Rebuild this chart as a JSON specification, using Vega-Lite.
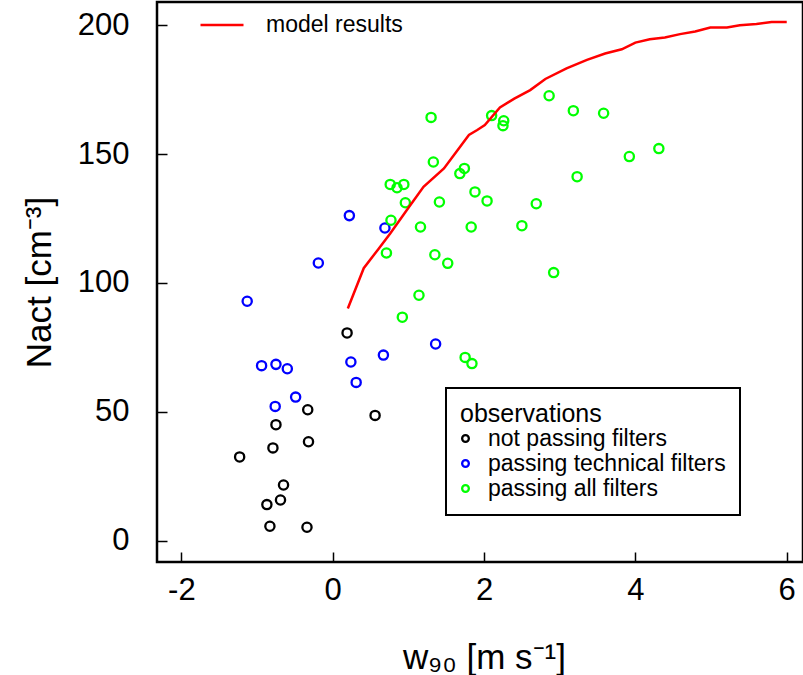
{
  "$schema": "https://vega.github.io/schema/vega-lite/v6.json",
  "width": 646,
  "height": 560,
  "autosize": {"type": "none"},
  "padding": {"left": 157, "top": 2, "right": 0, "bottom": 113},
  "background": "white",
  "config": {
    "view": {"stroke": "black", "strokeWidth": 2.5},
    "font": "Liberation Sans",
    "legend": {"strokeWidth": 2},
    "axis": {
      "domain": false,
      "grid": false,
      "ticks": true,
      "tickColor": "black",
      "tickWidth": 1.5,
      "tickSize": -10,
      "labelFont": "Liberation Sans",
      "labelFontSize": 31,
      "labelColor": "black",
      "titleFont": "Liberation Sans",
      "titleFontSize": 35,
      "titleFontWeight": "normal",
      "titleColor": "black"
    }
  },
  "datasets": {
    "model": [
      {"w90": 0.2, "nact": 90.1, "series": "model results"},
      {"w90": 0.41, "nact": 105.7, "series": "model results"},
      {"w90": 0.6, "nact": 113.0, "series": "model results"},
      {"w90": 0.76, "nact": 119.2, "series": "model results"},
      {"w90": 0.98, "nact": 128.3, "series": "model results"},
      {"w90": 1.2, "nact": 137.3, "series": "model results"},
      {"w90": 1.47, "nact": 144.4, "series": "model results"},
      {"w90": 1.8, "nact": 157.4, "series": "model results"},
      {"w90": 1.91, "nact": 159.3, "series": "model results"},
      {"w90": 2.01, "nact": 161.2, "series": "model results"},
      {"w90": 2.21, "nact": 168.1, "series": "model results"},
      {"w90": 2.4, "nact": 171.5, "series": "model results"},
      {"w90": 2.61, "nact": 174.8, "series": "model results"},
      {"w90": 2.81, "nact": 179.1, "series": "model results"},
      {"w90": 3.09, "nact": 183.2, "series": "model results"},
      {"w90": 3.36, "nact": 186.5, "series": "model results"},
      {"w90": 3.6, "nact": 189.0, "series": "model results"},
      {"w90": 3.82, "nact": 190.6, "series": "model results"},
      {"w90": 4.0, "nact": 193.2, "series": "model results"},
      {"w90": 4.19, "nact": 194.5, "series": "model results"},
      {"w90": 4.39, "nact": 195.2, "series": "model results"},
      {"w90": 4.59, "nact": 196.5, "series": "model results"},
      {"w90": 4.79, "nact": 197.5, "series": "model results"},
      {"w90": 4.99, "nact": 199.1, "series": "model results"},
      {"w90": 5.21, "nact": 199.1, "series": "model results"},
      {"w90": 5.38, "nact": 199.9, "series": "model results"},
      {"w90": 5.6, "nact": 200.4, "series": "model results"},
      {"w90": 5.8, "nact": 201.2, "series": "model results"},
      {"w90": 6.0, "nact": 201.2, "series": "model results"}
    ],
    "obs": [
      {"w90": 0.19, "nact": 80.6, "status": "not passing filters"},
      {"w90": -0.33, "nact": 50.8, "status": "not passing filters"},
      {"w90": 0.56, "nact": 48.6, "status": "not passing filters"},
      {"w90": -0.75, "nact": 45.0, "status": "not passing filters"},
      {"w90": -0.32, "nact": 38.4, "status": "not passing filters"},
      {"w90": -0.79, "nact": 36.0, "status": "not passing filters"},
      {"w90": -1.23, "nact": 32.5, "status": "not passing filters"},
      {"w90": -0.65, "nact": 21.6, "status": "not passing filters"},
      {"w90": -0.69, "nact": 15.8, "status": "not passing filters"},
      {"w90": -0.87, "nact": 14.0, "status": "not passing filters"},
      {"w90": -0.83, "nact": 5.6, "status": "not passing filters"},
      {"w90": -0.34, "nact": 5.2, "status": "not passing filters"},
      {"w90": -1.13, "nact": 92.9, "status": "passing technical filters"},
      {"w90": -0.94, "nact": 67.9, "status": "passing technical filters"},
      {"w90": -0.75, "nact": 68.4, "status": "passing technical filters"},
      {"w90": -0.6, "nact": 66.7, "status": "passing technical filters"},
      {"w90": -0.49, "nact": 55.7, "status": "passing technical filters"},
      {"w90": -0.76, "nact": 52.1, "status": "passing technical filters"},
      {"w90": 0.24, "nact": 69.3, "status": "passing technical filters"},
      {"w90": 0.31, "nact": 61.4, "status": "passing technical filters"},
      {"w90": 0.67, "nact": 72.0, "status": "passing technical filters"},
      {"w90": 1.36, "nact": 76.3, "status": "passing technical filters"},
      {"w90": 0.22, "nact": 126.1, "status": "passing technical filters"},
      {"w90": 0.69, "nact": 121.3, "status": "passing technical filters"},
      {"w90": -0.19, "nact": 107.7, "status": "passing technical filters"},
      {"w90": 1.14, "nact": 95.2, "status": "passing all filters"},
      {"w90": 0.92, "nact": 86.7, "status": "passing all filters"},
      {"w90": 1.75, "nact": 71.1, "status": "passing all filters"},
      {"w90": 1.84, "nact": 68.7, "status": "passing all filters"},
      {"w90": 1.3, "nact": 164.2, "status": "passing all filters"},
      {"w90": 1.33, "nact": 146.9, "status": "passing all filters"},
      {"w90": 1.74, "nact": 144.4, "status": "passing all filters"},
      {"w90": 1.68, "nact": 142.4, "status": "passing all filters"},
      {"w90": 0.76, "nact": 138.2, "status": "passing all filters"},
      {"w90": 0.85, "nact": 136.9, "status": "passing all filters"},
      {"w90": 0.94, "nact": 138.2, "status": "passing all filters"},
      {"w90": 1.88, "nact": 135.3, "status": "passing all filters"},
      {"w90": 0.96, "nact": 131.1, "status": "passing all filters"},
      {"w90": 1.41, "nact": 131.4, "status": "passing all filters"},
      {"w90": 0.77, "nact": 124.3, "status": "passing all filters"},
      {"w90": 1.16, "nact": 121.7, "status": "passing all filters"},
      {"w90": 1.83, "nact": 121.7, "status": "passing all filters"},
      {"w90": 0.71, "nact": 111.6, "status": "passing all filters"},
      {"w90": 1.35, "nact": 110.9, "status": "passing all filters"},
      {"w90": 1.52, "nact": 107.6, "status": "passing all filters"},
      {"w90": 2.86, "nact": 172.6, "status": "passing all filters"},
      {"w90": 2.1, "nact": 164.9, "status": "passing all filters"},
      {"w90": 2.26, "nact": 162.9, "status": "passing all filters"},
      {"w90": 2.25, "nact": 161.0, "status": "passing all filters"},
      {"w90": 3.18, "nact": 166.8, "status": "passing all filters"},
      {"w90": 3.58, "nact": 165.8, "status": "passing all filters"},
      {"w90": 4.31, "nact": 152.1, "status": "passing all filters"},
      {"w90": 3.92, "nact": 149.0, "status": "passing all filters"},
      {"w90": 3.23, "nact": 141.2, "status": "passing all filters"},
      {"w90": 2.04, "nact": 131.8, "status": "passing all filters"},
      {"w90": 2.69, "nact": 130.7, "status": "passing all filters"},
      {"w90": 2.5, "nact": 122.2, "status": "passing all filters"},
      {"w90": 2.92, "nact": 104.0, "status": "passing all filters"}
    ]
  },
  "encoding": {
    "x": {
      "field": "w90", "type": "quantitative",
      "scale": {"domain": [-2.322, 6.215], "nice": false, "zero": false},
      "axis": {
        "values": [-2, 0, 2, 4, 6],
        "labelExpr": "replace(datum.label, '−', '-')",
        "labelPadding": 23,
        "title": "w₉₀ [m s⁻¹]",
        "titleX": 327, "titleY": 106, "titleBaseline": "alphabetic", "titleAlign": "center"
      }
    },
    "y": {
      "field": "nact", "type": "quantitative",
      "scale": {"domain": [-8.26, 208.96], "nice": false, "zero": false},
      "axis": {
        "values": [0, 50, 100, 150, 200],
        "labelPadding": 38,
        "title": "Nact [cm⁻³]",
        "titleX": -107, "titleY": 280, "titleAngle": 270, "titleBaseline": "alphabetic", "titleAlign": "center"
      }
    }
  },
  "layer": [
    {
      "data": {"name": "obs"},
      "mark": {"type": "point", "shape": "circle", "filled": false, "size": 85, "strokeWidth": 2.3, "opacity": 1},
      "encoding": {
        "color": {
          "field": "status", "type": "nominal",
          "scale": {
            "domain": ["not passing filters", "passing technical filters", "passing all filters"],
            "range": ["#000000", "#0000ff", "#00ff00"]
          },
          "legend": {
            "orient": "none", "legendX": 289, "legendY": 386,
            "title": "observations",
            "titleFont": "Liberation Sans", "titleFontSize": 25, "titleFontWeight": "normal", "titleColor": "black",
            "titlePadding": 0, "titleLimit": 400,
            "labelFont": "Liberation Sans", "labelFontSize": 23, "labelColor": "black", "labelLimit": 400,
            "labelOffset": 11,
            "symbolType": "circle", "symbolSize": 45, "symbolStrokeWidth": 2.3, "symbolOffset": -6,
            "rowPadding": 1, "padding": 14,
            "strokeColor": "black", "fillColor": "white"
          }
        }
      }
    },
    {
      "data": {"name": "model"},
      "mark": {"type": "line", "strokeWidth": 2.5},
      "encoding": {
        "color": {
          "field": "series", "type": "nominal",
          "scale": {"domain": ["model results"], "range": ["#ff0000"]},
          "legend": {
            "orient": "none", "legendX": 42, "legendY": 0,
            "title": null,
            "labelFont": "Liberation Sans", "labelFontSize": 23, "labelColor": "black", "labelLimit": 400,
            "labelOffset": 21,
            "symbolType": "stroke", "symbolSize": 1849, "symbolStrokeWidth": 2.5,
            "padding": 0, "strokeColor": null
          }
        }
      }
    }
  ],
  "resolve": {"scale": {"color": "independent"}}
}
